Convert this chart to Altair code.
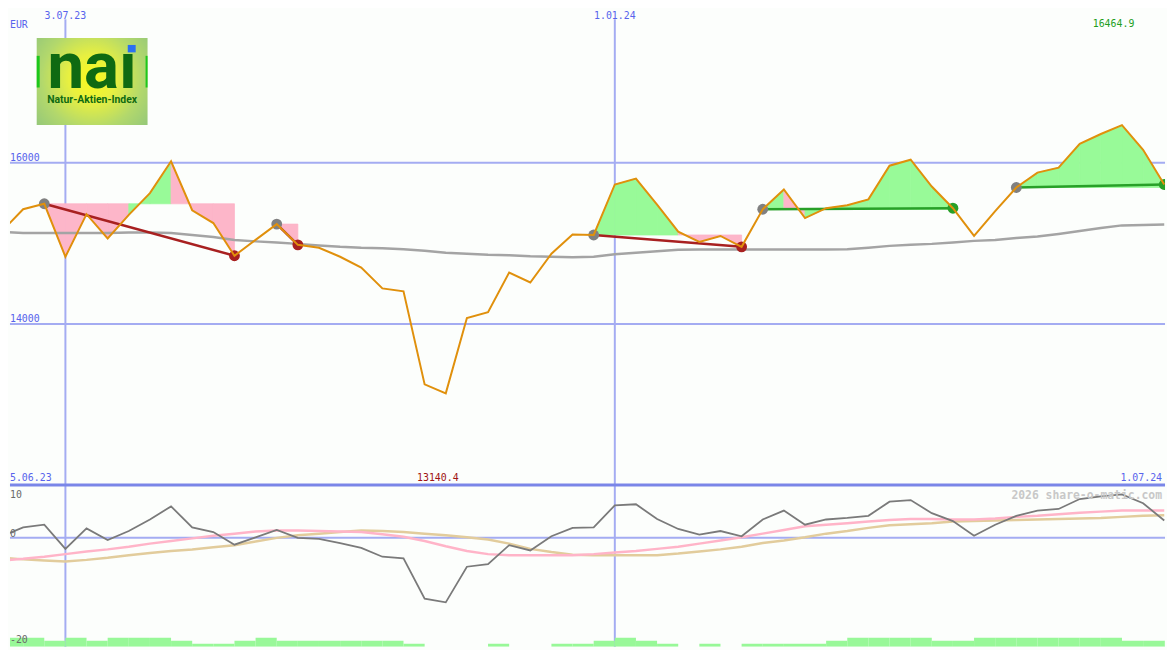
import altair as alt
import pandas as pd

# ---------------- data ----------------
dates = pd.date_range("2023-06-12", periods=56, freq="7D").strftime("%Y-%m-%d").tolist()

price = [15153, 15423, 15491, 14834, 15362, 15061, 15353, 15623, 16018, 15411,
         15252, 14847, 15043, 15239, 14982, 14945, 14834, 14699, 14442, 14405,
         13252, 13140.4, 14074, 14147, 14638, 14515, 14871, 15110, 15104, 15730,
         15804, 15481, 15145, 15018, 15092, 14957, 15423, 15669, 15313, 15436,
         15472, 15546, 15963, 16037, 15705, 15436, 15092, 15399, 15693, 15877,
         15939, 16233, 16356, 16464.9, 16160, 15730]

avg = [15141, 15129, 15129, 15129, 15129, 15129, 15135, 15135, 15129, 15104,
       15080, 15043, 15025, 15012, 14994, 14975, 14957, 14945, 14939, 14926,
       14908, 14883, 14871, 14859, 14853, 14840, 14834, 14828, 14834, 14865,
       14883, 14902, 14920, 14924, 14924, 14924, 14924, 14924, 14924, 14924,
       14926, 14945, 14969, 14982, 14994, 15012, 15031, 15043, 15068, 15086,
       15117, 15153, 15190, 15223, 15229, 15233]

osc = [0.3, 2.0, 2.5, -2.1, 1.8, -0.4, 1.3, 3.5, 6.0, 2.0,
       1.1, -1.3, 0.1, 1.5, 0.0, -0.2, -1.0, -1.9, -3.6, -3.9,
       -11.6, -12.3, -5.5, -5.0, -1.4, -2.4, 0.3, 1.9, 2.0, 6.2,
       6.4, 3.6, 1.7, 0.6, 1.3, 0.3, 3.5, 5.2, 2.5, 3.5,
       3.8, 4.2, 6.9, 7.2, 4.7, 3.2, 0.4, 2.5, 4.2, 5.2,
       5.5, 7.4, 7.9, 8.3, 6.6, 3.3]

sig_pink = [-4.3, -4.0, -3.6, -3.1, -2.6, -2.2, -1.7, -1.1, -0.6, -0.1,
            0.4, 0.8, 1.2, 1.4, 1.4, 1.3, 1.2, 1.1, 0.7, 0.2,
            -0.6, -1.6, -2.5, -3.1, -3.3, -3.3, -3.3, -3.3, -3.1, -2.8,
            -2.5, -2.1, -1.7, -1.1, -0.5, 0.1, 0.8, 1.5, 2.2, 2.5,
            2.8, 3.1, 3.4, 3.6, 3.6, 3.5, 3.5, 3.7, 4.0, 4.2,
            4.5, 4.8, 5.0, 5.2, 5.2, 5.2]

sig_tan = [-3.8, -4.1, -4.3, -4.5, -4.2, -3.8, -3.3, -2.9, -2.5, -2.2,
           -1.8, -1.4, -0.7, 0.0, 0.5, 0.8, 1.1, 1.4, 1.3, 1.1,
           0.8, 0.5, 0.1, -0.3, -1.1, -2.1, -2.7, -3.2, -3.3, -3.3,
           -3.3, -3.3, -3.0, -2.6, -2.2, -1.7, -1.0, -0.5, 0.1, 0.8,
           1.3, 1.9, 2.4, 2.6, 2.8, 3.1, 3.2, 3.3, 3.4, 3.5,
           3.6, 3.7, 3.8, 4.0, 4.2, 4.3]

vol = [3, 3, 2, 3, 2, 3, 3, 3, 2, 1,
       1, 2, 3, 2, 2, 2, 2, 2, 2, 1,
       0, 0, 0, 1, 0, 0, 1, 1, 2, 3,
       2, 1, 0, 1, 0, 1, 1, 1, 1, 2,
       3, 3, 3, 3, 2, 2, 3, 3, 3, 3,
       3, 3, 3, 2, 2, 2]

trend_start = [2, 13, 28, 36, 48]
trend_end = [11, 14, 35, 45, 55]
trend_up = [False, False, False, True, True]

grid_dates = ["2023-07-03", "2024-01-01"]
grid_labels = ["3.07.23", "1.01.24"]
price_levels = [16000, 14000]
price_labels = ["16000", "14000"]
currency = "EUR"
max_label = "16464.9"
min_label = "13140.4"
min_date = "2023-11-06"
start_label = "5.06.23"
end_label = "1.07.24"
watermark = "2026 share-o-matic.com"
logo_word = "na\u0131"
logo_sub = "Natur-Aktien-Index"

# ---------------- style ----------------
W, H_TOP, H_BOT = 1167, 479, 163
BG = "#fcfefc"
GRID = "#a4acf2"
SEP = "#7a86e8"
BLUE = "#5864ec"
MONO = "DejaVu Sans Mono"
ORANGE = "#e0900c"
UPF, DNF = "#98fa98", "#fdb6c9"
UPL, DNL = "#28a028", "#a82020"

xs = alt.Scale(type="utc", nice=False, domain=[
    alt.DateTime(year=2023, month=6, date=14, hours=15, minutes=22, utc=True),
    alt.DateTime(year=2024, month=7, date=1, hours=6, minutes=14, utc=True)])
ys = alt.Scale(domain=[12000, 17877], nice=False, zero=False)
os_ = alt.Scale(domain=[-20.75, 10], nice=False, zero=False)
vs = alt.Scale(domain=[0, 54.33], nice=False)

df = pd.DataFrame({"date": dates, "price": price, "avg": avg, "osc": osc,
                   "pink": sig_pink, "tan": sig_tan, "vol": vol})
df["date2"] = (pd.to_datetime(df["date"]) + pd.Timedelta(days=7)).dt.strftime("%Y-%m-%d")

X = alt.X("date:T", scale=xs, axis=None)

# fills between price and trend start level
seg_rows, tl_rows, dot_rows = [], [], []
for t, (s, e, up) in enumerate(zip(trend_start, trend_end, trend_up)):
    level = price[s]
    for i in range(s, e):
        col = UPF if price[i + 1] > level else DNF
        for j in (i, i + 1):
            seg_rows.append({"seg": f"{t}-{i}", "date": dates[j], "price": price[j],
                             "level": level, "col": col})
    lc = UPL if up else DNL
    for j in (s, e):
        tl_rows.append({"tid": t, "date": dates[j], "price": price[j], "col": lc})
    dot_rows.append({"date": dates[s], "price": price[s], "col": "#808080"})
    dot_rows.append({"date": dates[e], "price": price[e], "col": lc})
seg_df = pd.DataFrame(seg_rows)
tl_df = pd.DataFrame(tl_rows)
dot_df = pd.DataFrame(dot_rows)

gd = pd.DataFrame({"date": grid_dates, "t": grid_labels})
hd = pd.DataFrame({"v": price_levels, "t": price_labels})
one = pd.DataFrame({"a": [0]})

# ---------------- top panel ----------------
hgrid = alt.Chart(hd).mark_rule(color=GRID, strokeWidth=2).encode(
    y=alt.Y("v:Q", scale=ys, axis=None))
hgrid_txt = alt.Chart(hd).mark_text(align="left", baseline="alphabetic", dy=-2,
                                    font=MONO, fontSize=10, color=BLUE).encode(
    x=alt.value(0), y=alt.Y("v:Q", scale=ys, axis=None), text="t:N")
vgrid = alt.Chart(gd).mark_rule(color=GRID, strokeWidth=2).encode(
    x=X, y=alt.value(8), y2=alt.value(H_TOP))
vgrid_txt = alt.Chart(gd).mark_text(align="center", baseline="alphabetic",
                                    font=MONO, fontSize=10, color=BLUE).encode(
    x=X, y=alt.value(8), text="t:N")

fills = alt.Chart(seg_df).mark_area(clip=True, opacity=1, strokeWidth=0.8).encode(
    x=X, y=alt.Y("price:Q", scale=ys, axis=None, stack=None), y2="level:Q",
    detail="seg:N", color=alt.Color("col:N", scale=None),
    stroke=alt.Stroke("col:N", scale=None))
ma = alt.Chart(df).mark_line(color="#a4a4a4", strokeWidth=2.5, clip=True).encode(
    x=X, y=alt.Y("avg:Q", scale=ys, axis=None))
tlines = alt.Chart(tl_df).mark_line(strokeWidth=2.5, clip=True).encode(
    x=X, y=alt.Y("price:Q", scale=ys, axis=None), detail="tid:N",
    color=alt.Color("col:N", scale=None))
dots = alt.Chart(dot_df).mark_circle(size=120, opacity=1, clip=True).encode(
    x=X, y=alt.Y("price:Q", scale=ys, axis=None), color=alt.Color("col:N", scale=None))
pline = alt.Chart(df).mark_line(color=ORANGE, strokeWidth=2, clip=True).encode(
    x=X, y=alt.Y("price:Q", scale=ys, axis=None))

t_eur = alt.Chart(one).mark_text(align="left", baseline="alphabetic", font=MONO,
                                 fontSize=10, color=BLUE, text=currency).encode(
    x=alt.value(0), y=alt.value(17))
t_max = alt.Chart(one).mark_text(align="right", baseline="alphabetic", font=MONO,
                                 fontSize=10, color="#1e9e1e", text=max_label).encode(
    x=alt.value(1136), y=alt.value(16))
t_min = alt.Chart(pd.DataFrame({"date": [min_date]})).mark_text(
    align="center", baseline="alphabetic", font=MONO, fontSize=10, color="#a01414",
    text=min_label, dx=-8).encode(x=X, y=alt.value(474.5))
t_start = alt.Chart(one).mark_text(align="left", baseline="alphabetic", font=MONO,
                                   fontSize=10, color=BLUE, text=start_label).encode(
    x=alt.value(0), y=alt.value(474.5))
t_end = alt.Chart(one).mark_text(align="right", baseline="alphabetic", font=MONO,
                                 fontSize=10, color=BLUE, text=end_label).encode(
    x=alt.value(1164), y=alt.value(474.5))

# logo
logo_bg = alt.Chart(one).mark_rect(fill={
    "gradient": "radial", "x1": 0.5, "y1": 0.47, "x2": 0.5, "y2": 0.47, "r1": 0, "r2": 0.7,
    "stops": [{"offset": 0, "color": "#fafa1c"}, {"offset": 0.3, "color": "#e8f040"},
              {"offset": 0.65, "color": "#b2d86c"}, {"offset": 1, "color": "#8ec47c"}]}).encode(
    x=alt.value(27), x2=alt.value(139), y=alt.value(27), y2=alt.value(115))
logo_bar_l = alt.Chart(one).mark_rect(color="#1cc81c").encode(
    x=alt.value(27), x2=alt.value(30), y=alt.value(45), y2=alt.value(77))
logo_bar_r = alt.Chart(one).mark_rect(color="#1cc81c").encode(
    x=alt.value(137), x2=alt.value(139), y=alt.value(45), y2=alt.value(77))
LG = "#0f6a12"
logo_main = alt.Chart(one).mark_text(text=logo_word, font="Roboto", fontWeight="bold",
                                     fontSize=66, color=LG, align="center",
                                     baseline="alphabetic").encode(
    x=alt.value(83), y=alt.value(77))
logo_sq = alt.Chart(one).mark_rect(color="#2a70f0").encode(
    x=alt.value(119), x2=alt.value(127), y=alt.value(34), y2=alt.value(41.5))
logo_txt = alt.Chart(one).mark_text(text=logo_sub, font="Roboto",
                                    fontWeight="bold", fontSize=10.5, color=LG,
                                    align="center", baseline="middle").encode(
    x=alt.value(83), y=alt.value(90))

top = alt.layer(hgrid, vgrid, fills, ma, tlines, dots, pline,
                hgrid_txt, vgrid_txt, t_eur, t_max, t_min, t_start, t_end,
                logo_bg, logo_bar_l, logo_bar_r, logo_main, logo_sq,
                logo_txt).properties(width=W, height=H_TOP)

# ---------------- bottom panel ----------------
vgrid2 = alt.Chart(gd).mark_rule(color=GRID, strokeWidth=2).encode(x=X)
bars = alt.Chart(df).mark_rect(color="#98f898", clip=True).encode(
    x=X, x2="date2:T", y=alt.Y("vol:Q", scale=vs, axis=None), y2=alt.datum(0))
zero = alt.Chart(pd.DataFrame({"v": [0]})).mark_rule(color=GRID, strokeWidth=2).encode(
    y=alt.Y("v:Q", scale=os_, axis=None))
sep = alt.Chart(one).mark_rule(color=SEP, strokeWidth=3).encode(
    x=alt.value(0), x2=alt.value(W), y=alt.value(-0.5))
l_tan = alt.Chart(df).mark_line(color="#e2cc9c", strokeWidth=2.5, clip=True).encode(
    x=X, y=alt.Y("tan:Q", scale=os_, axis=None))
l_pink = alt.Chart(df).mark_line(color="#ffb4c8", strokeWidth=2.5, clip=True).encode(
    x=X, y=alt.Y("pink:Q", scale=os_, axis=None))
l_osc = alt.Chart(df).mark_line(color="#7a7a7a", strokeWidth=1.8, clip=True).encode(
    x=X, y=alt.Y("osc:Q", scale=os_, axis=None))

t10 = alt.Chart(one).mark_text(text="10", align="left", baseline="alphabetic", font=MONO,
                               fontSize=10, color="#6a6a6a").encode(x=alt.value(0), y=alt.value(13))
t0 = alt.Chart(pd.DataFrame({"v": [0], "t": ["0"]})).mark_text(
    align="left", baseline="alphabetic", dy=-1, font=MONO, fontSize=10, color="#6a6a6a").encode(
    x=alt.value(0), y=alt.Y("v:Q", scale=os_, axis=None), text="t:N")
t20 = alt.Chart(pd.DataFrame({"v": [-20], "t": ["-20"]})).mark_text(
    align="left", baseline="alphabetic", font=MONO, fontSize=10, color="#6a6a6a").encode(
    x=alt.value(0), y=alt.Y("v:Q", scale=os_, axis=None), text="t:N")
t_wm = alt.Chart(one).mark_text(text=watermark, align="right", baseline="alphabetic",
                                font=MONO, fontSize=11.5, fontWeight="bold",
                                color="#c8c8c8").encode(x=alt.value(1164), y=alt.value(13.5))

bottom = alt.layer(vgrid2, bars, zero, l_tan, l_pink, l_osc, sep, t10, t0, t20, t_wm
                   ).resolve_scale(y="independent").properties(width=W, height=H_BOT)

chart = alt.vconcat(top, bottom, spacing=0, bounds="flush").properties(
    background=BG, padding=0).configure_view(stroke=None)

chart.save("out.html", embed_options={"renderer": "svg", "actions": False})
